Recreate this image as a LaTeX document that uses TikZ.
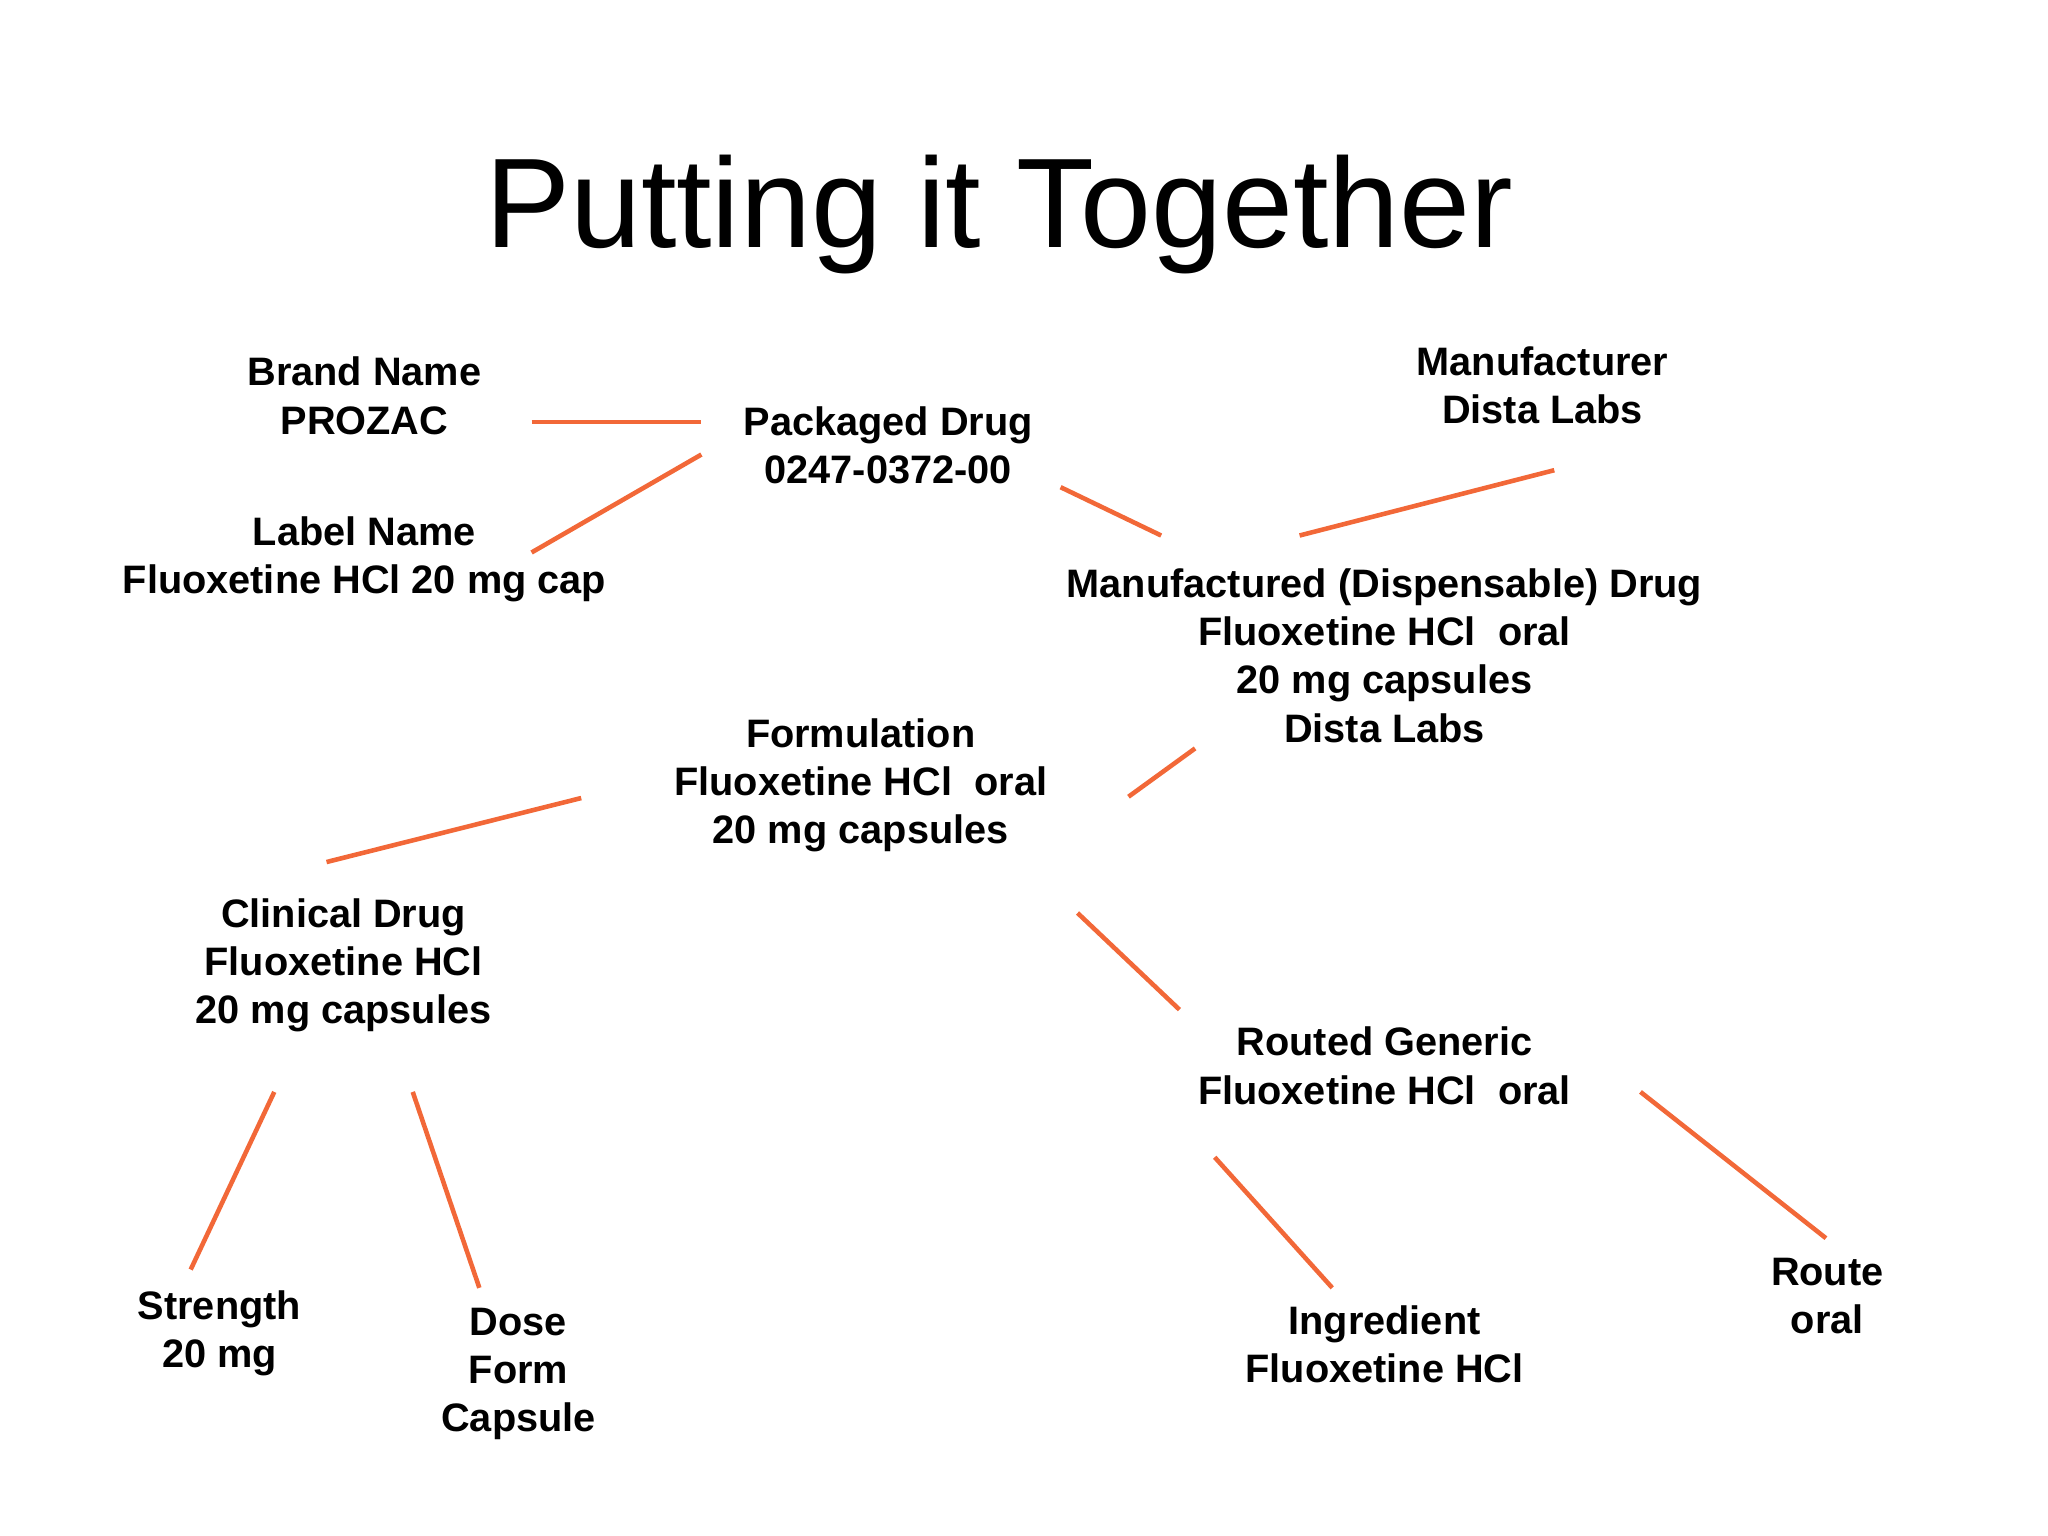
\documentclass[tikz,border=0pt]{standalone}
\usepackage{fontspec}
\setmainfont{Liberation Sans}
\begin{document}
\begin{tikzpicture}[x=0.01306cm,y=-0.01306cm,
  lbl/.style={align=center,font=\bfseries\fontsize{11.3}{13.7}\selectfont,inner sep=0pt},
  ln/.style={draw={rgb,255:red,242;green,104;blue,56},line width=1.3pt}]
\useasboundingbox (0,0) rectangle (1568,1176);
\node[font=\fontsize{36.3}{44}\selectfont] (title) at (765,164) {Putting it Together};
\node[lbl] (brand) at (279,303) {Brand Name\\PROZAC};
\node[lbl] (label) at (279,428) {Label Name\\Fluoxetine HCl 20 mg cap};
\node[lbl] (pack) at (680,341) {Packaged Drug\\0247-0372-00};
\node[lbl] (manu) at (1181,295) {Manufacturer\\Dista Labs};
\node[lbl] (mdrug) at (1060,502) {Manufactured (Dispensable) Drug\\Fluoxetine HCl\ \ oral\\20 mg capsules\\Dista Labs};
\node[lbl] (form) at (659,601) {Formulation\\Fluoxetine HCl\ \ oral\\20 mg capsules};
\node[lbl] (clin) at (263,739) {Clinical Drug\\Fluoxetine HCl\\20 mg capsules};
\node[lbl] (routed) at (1060,816) {Routed Generic\\Fluoxetine HCl\ \ oral};
\node[lbl] (str) at (168,1021) {Strength\\20 mg};
\node[lbl] (dose) at (397,1052) {Dose\\Form\\Capsule};
\node[lbl] (ingr) at (1060,1029) {Ingredient\\Fluoxetine HCl};
\node[lbl] (route) at (1399,992) {Route\\oral};
\coordinate (a1) at (407,323); \coordinate (a2) at (537,323);
\coordinate (b1) at (537,348); \coordinate (b2) at (407,423);
\coordinate (c1) at (812,373); \coordinate (c2) at (889,410);
\coordinate (d1) at (995,410); \coordinate (d2) at (1190,360);
\coordinate (e1) at (915,573); \coordinate (e2) at (864,610);
\coordinate (f1) at (445,611); \coordinate (f2) at (250,660);
\coordinate (g1) at (825,699); \coordinate (g2) at (903,773);
\coordinate (h1) at (210,836); \coordinate (h2) at (146,972);
\coordinate (i1) at (316,836); \coordinate (i2) at (367,986);
\coordinate (j1) at (930,886); \coordinate (j2) at (1020,986);
\coordinate (k1) at (1256,836); \coordinate (k2) at (1398,948);
\foreach \p in {a,b,c,d,e,f,g,h,i,j,k}{\draw[ln] (\p1) -- (\p2);}
\end{tikzpicture}
\end{document}
